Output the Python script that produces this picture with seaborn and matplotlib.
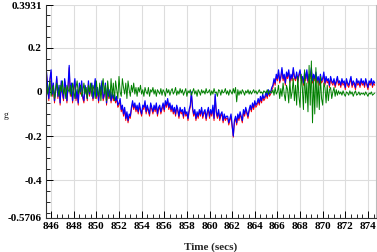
import numpy as np
import pandas as pd
import seaborn as sns
import matplotlib
matplotlib.use("Agg")
import matplotlib.pyplot as plt
from matplotlib.ticker import MultipleLocator, FixedLocator

sns.set_style("white")
plt.rcParams["font.family"] = ["Liberation Serif", "DejaVu Serif"]

# sample times, 0.1 s apart
t0, dt, n = 845.6, 0.1, 291
time = np.round(t0 + dt * np.arange(n), 2)

# accelerations in milli-g (one row = 2 s)
blue_mg = [
    90, 20, -30, 60, 100, -10, 40, -40, 10, 70, -20, 30, -50, 50, 0, -30, 60, 20, -40, 30,
    120, -10, 40, -40, 20, 60, -30, 10, -50, 40, 0, 50, -20, -40, 30, 10, -30, 50, -10, 20,
    40, -30, 10, 60, -20, 20, -40, 30, 0, 50, -30, -10, 40, -50, 20, -20, 10, -40, 0, -30,
    -10, -40, -20, -60, -50, -30, -80, -60, -100, -70, -120, -90, -130, -100, -110, -70, -40, -70, -50, -80,
    -60, -90, -50, -80, -100, -60, -70, -40, -90, -60, -80, -100, -50, -70, -90, -60, -80, -50, -100, -70,
    -60, -90, -70, -50, -80, -40, -60, -30, -70, -50, -80, -60, -90, -70, -100, -60, -80, -110, -70, -90,
    -80, -110, -70, -100, -90, -120, -80, -60, 0, -70, -100, -80, -120, -90, -110, -80, -100, -70, -110, -90,
    -80, -120, -90, -70, -110, -80, -100, -60, -120, -10, -90, -110, -80, -120, -100, -90, -130, -100, -120, -110,
    -110, -140, -120, -100, -150, -200, -130, -110, -140, -100, -120, -90, -110, -130, -80, -100, -70, -90, -110, -80,
    -60, -80, -50, -70, -40, -60, -50, -30, -50, -20, -40, -10, -30, -20, 0, -20, 10, -10, 0, 20,
    30, 60, 40, 80, 60, 100, 50, 70, 110, 60, 80, 40, 90, 70, 100, 50, 80, 60, 110, 70,
    60, 90, 50, 80, 100, 60, 70, 40, 90, 60, 100, 50, 80, 70, 110, 50, 80, 60, 90, 50,
    70, 40, 80, 50, 60, 90, 40, 70, 50, 60, 30, 70, 50, 40, 60, 30, 50, 70, 40, 50,
    30, 60, 40, 50, 20, 60, 40, 30, 50, 70, 30, 50, 40, 20, 60, 40, 50, 30, 60, 40,
    50, 30, 60, 40, 20, 50, 40, 60, 30, 50, 40,
]

red_mg = [
    80, 10, -40, 50, 90, -20, 30, -50, 0, 60, -30, 20, -60, 40, -10, -40, 50, 10, -50, 20,
    110, -20, 30, -50, 10, 50, -40, 0, -60, 30, -10, 40, -30, -50, 20, 0, -40, 40, -20, 10,
    30, -40, 0, 50, -30, 10, -50, 20, -10, 40, -40, -20, 30, -60, 10, -30, 0, -50, -10, -40,
    -20, -50, -30, -70, -60, -40, -90, -70, -110, -80, -130, -100, -140, -110, -120, -80, -50, -80, -60, -90,
    -70, -100, -60, -90, -110, -70, -80, -50, -100, -70, -90, -110, -60, -80, -100, -70, -90, -60, -110, -80,
    -70, -100, -80, -60, -90, -50, -70, -40, -80, -60, -90, -70, -100, -80, -110, -70, -90, -120, -80, -100,
    -90, -120, -80, -110, -100, -130, -90, -70, -10, -80, -110, -90, -130, -100, -120, -90, -110, -80, -120, -100,
    -90, -130, -100, -80, -120, -90, -110, -70, -130, -20, -100, -120, -90, -130, -110, -100, -140, -110, -130, -120,
    -120, -150, -130, -110, -160, -205, -140, -120, -150, -110, -130, -100, -120, -140, -90, -110, -80, -100, -120, -90,
    -70, -90, -60, -80, -50, -70, -60, -40, -60, -30, -50, -20, -40, -30, -10, -30, 0, -20, -10, 10,
    20, 50, 30, 70, 50, 90, 40, 60, 100, 50, 70, 30, 80, 60, 90, 40, 70, 50, 100, 60,
    50, 80, 40, 70, 90, 50, 60, 30, 80, 50, 90, 40, 70, 60, 100, 40, 70, 50, 80, 40,
    60, 30, 70, 40, 50, 80, 30, 60, 40, 50, 20, 60, 40, 30, 50, 20, 40, 60, 30, 40,
    20, 50, 30, 40, 10, 50, 30, 20, 40, 60, 20, 40, 30, 10, 50, 30, 40, 20, 50, 30,
    40, 20, 50, 30, 10, 40, 30, 50, 20, 40, 30,
]

green_mg = [
    40, -10, 20, 50, -20, 10, 30, -30, 0, 40, 10, -20, 30, 0, 50, -10, 20, -30, 30, 10,
    0, 30, -20, 40, 10, -30, 20, 50, -10, 10, 30, -20, 0, 40, -10, 20, -30, 30, 0, 40,
    -20, 30, 10, -30, 50, 0, -20, 40, -40, 20, 60, -10, 30, -40, 50, 0, -30, 60, -20, 40,
    -40, 50, 10, -30, 70, 0, -20, 60, 20, -10, 40, -30, 50, 10, -20, 30, 0, 40, -10, 20,
    -20, 20, 0, 30, -10, 10, -20, 20, 0, -10, 20, -20, 10, 0, 20, -10, 10, -20, 10, 0,
    -10, 15, -15, 10, 0, -20, 15, -5, 10, -15, 5, 15, -10, 0, 20, -15, 5, -10, 15, -5,
    10, -15, 0, 15, -20, 5, -5, 10, -15, 0, 15, -10, 5, -20, 10, 0, -15, 10, -5, 5,
    -10, 15, -5, 0, 10, -15, 5, -10, 15, -5, 0, -20, 10, 5, -15, 10, -5, 0, 15, -10,
    5, -15, 10, 0, -10, 15, -5, 20, -45, 10, -15, 5, -10, 10, 0, -15, 5, -5, 10, -10,
    5, -10, 0, 10, -5, 5, -10, 0, 10, -5, 0, -10, 5, 0, -5, 10, -10, 5, 0, -5,
    10, -15, 20, -10, 0, 30, -30, 15, -20, 40, -10, -40, 30, 10, -50, 50, -30, 0, 60, -40,
    30, -60, 70, -20, -70, 80, 20, -80, 100, -50, 40, -90, 120, -60, 140, -140, 60, -100, 110, -70,
    50, -80, 70, -30, -60, 40, 20, -50, 30, -40, 10, 20, -30, 0, 20, -20, 10, -15, 5, -10,
    0, -15, 5, -10, -20, 0, -5, -15, 5, -10, 0, -20, -5, 5, -15, -10, 0, -15, -5, -10,
    -5, -15, 0, -10, -20, -5, -10, 0, -15, -10, -5,
]

x_ticks = list(range(846, 875, 2))
y_ticks = [0.3931, 0.2, 0, -0.2, -0.4, -0.5706]
y_labels = ["0.3931", "0.2", "0", "-0.2", "-0.4", "-0.5706"]

df = pd.DataFrame({
    "t": time,
    "red": np.array(red_mg) / 1000,
    "blue": np.array(blue_mg) / 1000,
    "green": np.array(green_mg) / 1000,
})

fig = plt.figure(figsize=(3.77, 2.52), dpi=100)
ax = fig.add_axes([0.122, 0.135, 0.875, 0.845])

for col, c, w in [("red", "#ff0000", 0.7), ("blue", "#0000ff", 0.85), ("green", "#008000", 0.7)]:
    sns.lineplot(data=df, x="t", y=col, color=c, lw=w, ax=ax)

ax.set_xlim(845.55, 874.7)
ax.set_ylim(-0.5706, 0.3931)
ax.xaxis.set_major_locator(FixedLocator(x_ticks))
ax.xaxis.set_minor_locator(MultipleLocator(0.5))
ax.yaxis.set_major_locator(FixedLocator(y_ticks))
ax.yaxis.set_minor_locator(MultipleLocator(0.05))
ax.set_yticklabels(y_labels)
ax.grid(True, which="major", color="#dddddd", lw=0.8)
ax.set_axisbelow(True)

ax.tick_params(which="both", direction="in", labelsize=8, colors="black", pad=3)
ax.tick_params(which="major", length=5, width=0.7)
ax.tick_params(which="minor", length=3, width=0.6)
ax.tick_params(axis="x", which="both", top=False, bottom=True)
ax.tick_params(axis="y", which="both", left=True, right=False)
for lbl in ax.get_xticklabels() + ax.get_yticklabels():
    lbl.set_fontweight("bold")

ax.spines["top"].set_visible(False)
ax.spines["right"].set_color("#bbbbbb")
ax.spines["left"].set_color("#333333")
ax.spines["bottom"].set_color("#333333")

ax.set_xlabel("Time (secs)", fontsize=8, fontweight="bold")
ax.xaxis.set_label_coords(0.5, -0.115)
ax.set_ylabel("g", fontsize=7, rotation=0)
ax.yaxis.set_label_coords(-0.12, 0.46)

fig.savefig("out.png", dpi=100)
